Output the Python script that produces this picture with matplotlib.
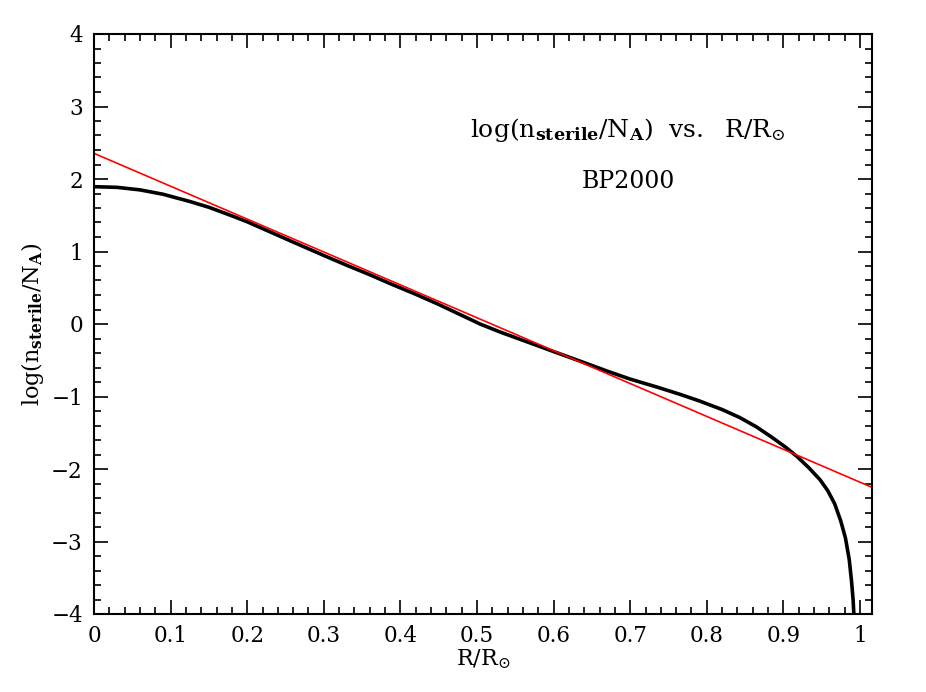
import numpy as np
import matplotlib
matplotlib.use("Agg")
import matplotlib.pyplot as plt
from matplotlib.ticker import MultipleLocator

plt.rcParams['font.family'] = ['DejaVu Serif']
plt.rcParams['mathtext.fontset'] = 'dejavuserif'

# profile
r = [0.0, 0.03, 0.06, 0.09, 0.125, 0.15, 0.178, 0.2, 0.23, 0.26, 0.299,
     0.33, 0.36, 0.386, 0.42, 0.45, 0.48, 0.504, 0.53, 0.569, 0.60, 0.634,
     0.67, 0.70, 0.735, 0.765, 0.79, 0.82, 0.843, 0.865, 0.886, 0.903,
     0.918, 0.933, 0.948, 0.958, 0.967, 0.975, 0.981, 0.986, 0.989, 0.991, 0.992]
logn = [1.894, 1.885, 1.85, 1.79, 1.69, 1.61, 1.50, 1.41, 1.27, 1.13, 0.95,
        0.81, 0.68, 0.56, 0.41, 0.27, 0.12, 0.0, -0.11, -0.26, -0.38, -0.51,
        -0.65, -0.76, -0.87, -0.97, -1.06, -1.18, -1.29, -1.42, -1.57, -1.70,
        -1.83, -1.98, -2.15, -2.30, -2.48, -2.72, -2.95, -3.25, -3.55, -3.8, -4.0]

# straight fit
fit_r = [0.0, 1.0157]
fit_y = [2.354, -2.253]

fig = plt.figure(figsize=(9.26, 6.92), dpi=100)
ax = fig.add_axes([94/926, 1 - 614/692, (872-94)/926, (614-34)/692])

ax.plot(r, logn, color='black', lw=2.6, solid_joinstyle='round')
ax.plot(fit_r, fit_y, color='red', lw=1.2)

ax.set_xlim(0, 1.0157)
ax.set_ylim(-4, 4)
ax.xaxis.set_minor_locator(MultipleLocator(0.02))
ax.yaxis.set_minor_locator(MultipleLocator(0.2))
ax.set_xticks(np.arange(0, 1.01, 0.1))
ax.set_xticklabels(['0', '0.1', '0.2', '0.3', '0.4', '0.5', '0.6', '0.7', '0.8', '0.9', '1'])
ax.set_yticks(range(-4, 5))
ax.set_yticklabels(['\u22124', '\u22123', '\u22122', '\u22121', '0', '1', '2', '3', '4'])

ax.tick_params(which='both', direction='in', top=True, right=True, width=1.2,
               labelsize=15.5)
ax.tick_params(which='major', length=10, pad=8)
ax.tick_params(which='minor', length=5)
for s in ax.spines.values():
    s.set_linewidth(1.5)

ax.set_xlabel(r'$\mathrm{R/R_{\odot}}$', fontsize=16, labelpad=0)
ax.set_ylabel(r'$\mathrm{log(n_{\mathbf{sterile}}/N_{\mathbf{A}})}$', fontsize=16, labelpad=4)

ax.text(0.697, 2.68, r'$\mathrm{log(n_{\mathbf{sterile}}/N_{\mathbf{A}})\ \ vs.\ \ R/R_{\odot}}$',
        fontsize=18, ha='center', va='center')
ax.text(0.697, 1.96, 'BP2000', fontsize=17, ha='center', va='center')

fig.savefig('out.png', dpi=100)
